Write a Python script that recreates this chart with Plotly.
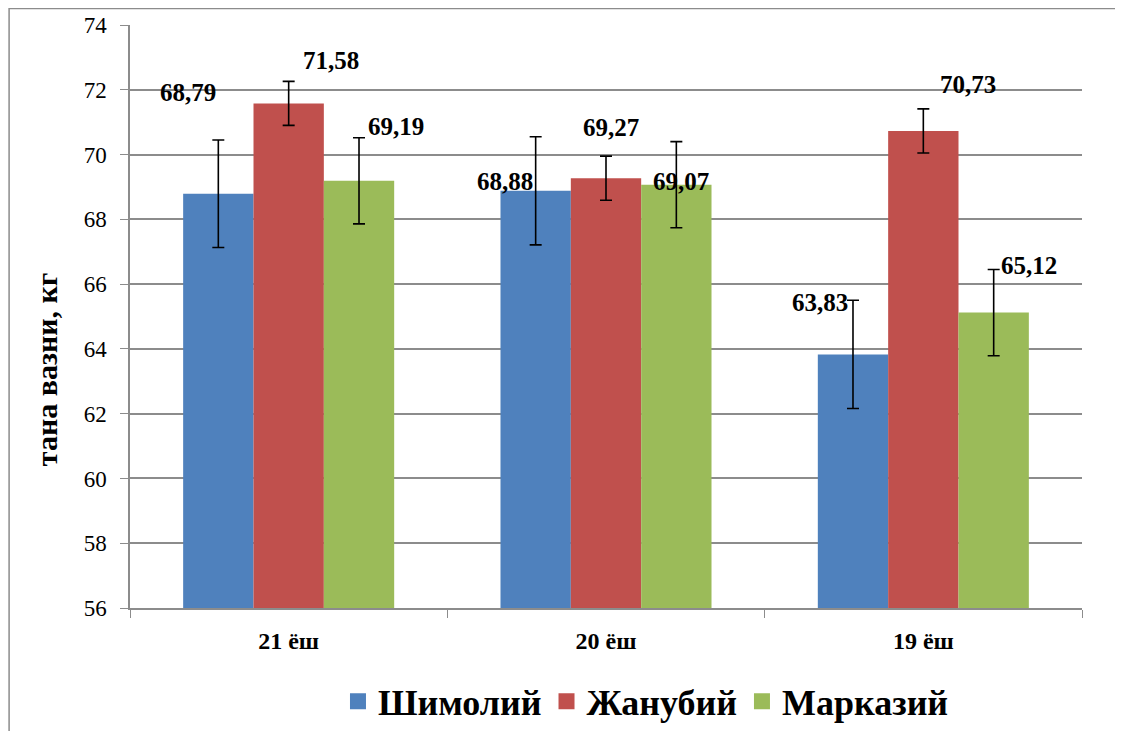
import plotly.graph_objects as go

categories = ["21 ёш", "20 ёш", "19 ёш"]
series_names = ["Шимолий", "Жанубий", "Марказий"]
shimoliy = [68.79, 68.88, 63.83]
janubiy = [71.58, 69.27, 70.73]
markaziy = [69.19, 69.07, 65.12]
shimoliy_err = [1.66, 1.67, 1.67]
janubiy_err = [0.68, 0.68, 0.68]
markaziy_err = [1.33, 1.33, 1.33]
y_ticks = [56, 58, 60, 62, 64, 66, 68, 70, 72, 74]
y_title = "тана вазни, кг"

colors = ["#4F81BD", "#C0504D", "#9BBB59"]
values = [shimoliy, janubiy, markaziy]
errors = [shimoliy_err, janubiy_err, markaziy_err]

FONT = "Liberation Serif, Times New Roman, DejaVu Serif, serif"

fig = go.Figure()
for name, vals, errs, col in zip(series_names, values, errors, colors):
    fig.add_trace(go.Bar(
        x=categories, y=vals, name=name, showlegend=False,
        marker=dict(color=col, line=dict(width=0)),
        error_y=dict(type="data", array=errs, visible=True,
                     color="black", thickness=1.6, width=6),
    ))
# legend entries with square swatches
for name, col in zip(series_names, colors):
    fig.add_trace(go.Scatter(
        x=[None], y=[None], mode="markers", name="<b>" + name + "</b>",
        marker=dict(symbol="square", size=19, color=col),
        showlegend=True,
    ))

# label placement (pixel offsets relative to bar top; style only)
series_dx = [-70, 0, 70]
label_shift = [
    [(-31, 101), (-31, 9), (-33, 52)],
    [(42, 43), (5, 51), (45, 46)],
    [(37, 54), (5, 3), (36, 47)],
]
annotations = []
for s, vals in enumerate(values):
    for g, v in enumerate(vals):
        dx, dy = label_shift[s][g]
        annotations.append(dict(
            x=categories[g], y=v, xref="x", yref="y",
            text="<b>" + f"{v:.2f}".replace(".", ",") + "</b>",
            showarrow=False, xshift=series_dx[s] + dx, yshift=dy,
            font=dict(family=FONT, size=25, color="black"),
        ))
annotations.append(dict(
    x=-0.087, y=0.41, xref="paper", yref="paper", textangle=-90,
    text="<b>" + y_title + "</b>", showarrow=False,
    xanchor="center", yanchor="middle",
    font=dict(family=FONT, size=30, color="black"),
))

fig.update_layout(
    width=1123, height=731,
    margin=dict(l=122, r=49, t=17, b=131, autoexpand=False),
    paper_bgcolor="white", plot_bgcolor="white",
    barmode="group", bargap=0.335, bargroupgap=0,
    font=dict(family=FONT, color="black"),
    showlegend=True,
    legend=dict(orientation="h", x=0.542, xanchor="center", y=-0.16, yanchor="middle",
                font=dict(family=FONT, size=36, color="black"),
                itemwidth=30, traceorder="normal", tracegroupgap=0),
    annotations=annotations,
    shapes=[dict(type="rect", xref="paper", yref="paper",
                 x0=-0.127, x1=1.045, y0=-0.218, y1=1.0283,
                 line=dict(color="#8c8c8c", width=1.5), fillcolor="rgba(0,0,0,0)",
                 layer="below")],
)
fig.update_xaxes(
    showline=True, linecolor="#8c8c8c", linewidth=1.5,
    ticks="outside", tickson="boundaries", ticklen=8, tickcolor="#8c8c8c",
    tickfont=dict(family=FONT, size=24, color="black"),
    tickprefix="<b>", ticksuffix="</b>", ticklabelstandoff=10,
    showgrid=False,
)
fig.update_yaxes(
    range=[56, 74], tickvals=y_ticks,
    showline=True, linecolor="#8c8c8c", linewidth=1.5,
    ticks="outside", ticklen=8, tickcolor="#8c8c8c", ticklabelstandoff=9,
    showgrid=True, gridcolor="#8c8c8c", gridwidth=1.5,
    tickfont=dict(family=FONT, size=23, color="black"),
    zeroline=False,
)

fig.write_html("out.html")
